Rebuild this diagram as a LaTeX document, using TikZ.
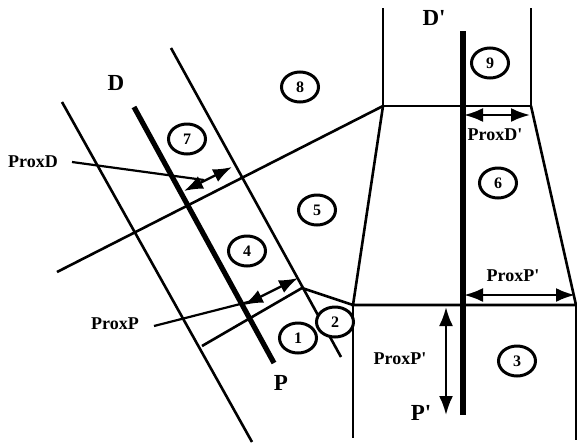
\documentclass[tikz,border=0pt]{standalone}
\usepackage{fontspec}
\setmainfont{Liberation Serif}
\newfontfamily\libplain{Liberation Serif}
\usetikzlibrary{arrows.meta,shapes.geometric}
\begin{document}
\begin{tikzpicture}[x=1pt,y=-1pt,
  thinline/.style={line width=2.6pt},
  thickline/.style={line width=5.2pt},
  num/.style={draw,ellipse,line width=3pt,minimum width=37pt,minimum height=30pt,inner sep=0pt,fill=white,font=\libplain\bfseries\fontsize{16}{16}\selectfont},
  lbl/.style={font=\libplain\bfseries\fontsize{18}{18}\selectfont,inner sep=0pt},
  biglbl/.style={font=\libplain\bfseries\fontsize{23}{23}\selectfont,inner sep=0pt},
  dbl/.style={line width=2.4pt,{Latex[length=19pt,width=14pt]}-{Latex[length=19pt,width=14pt]}},
  leader/.style={line width=2.2pt}]
\useasboundingbox (0,0) rectangle (577,445);
% vertices
\coordinate (L1a) at (62,102);
\coordinate (L1b) at (252,442);
\coordinate (Da) at (134,107);
\coordinate (Db) at (274,363);
\coordinate (R1a) at (171,48);
\coordinate (R1b) at (341,357);
\coordinate (U1) at (57,272);
\coordinate (V1) at (383,106);
\coordinate (Pa) at (202,346);
\coordinate (Pb) at (302,288);
\coordinate (V2) at (353,305);
\coordinate (V3) at (531,106);
\coordinate (V4) at (576,305);
\coordinate (DLt) at (383,8);
\coordinate (DRt) at (531,8);
\coordinate (DPt) at (463,31);
\coordinate (DPb) at (463,415);
\coordinate (Bot) at (353,438);
\coordinate (RBot) at (576,440);
% left band
\draw[thinline] (L1a) -- (L1b);
\draw[thickline] (Da) -- (Db);
\draw[thinline] (R1a) -- (R1b);
\draw[thinline] (U1) -- (V1);
\draw[thinline] (Pa) -- (Pb) -- (V2);
% right band
\draw[thinline] (DLt) -- (V1) -- (V3) -- (DRt);
\draw[thinline] (V1) -- (V2) -- (V4) -- (V3);
\draw[thinline] (V2) -- (Bot);
\draw[thinline] (V4) -- (RBot);
\draw[thickline] (DPt) -- (DPb);
% arrows
\coordinate (pdA) at (184,191);
\coordinate (pdB) at (232,167);
\draw[dbl] (pdA) -- (pdB);
\coordinate (ppA) at (244,305);
\coordinate (ppB) at (298,278);
\draw[dbl] (ppA) -- (ppB);
\coordinate (pdpA) at (464,115);
\coordinate (pdpB) at (530,115);
\draw[dbl] (pdpA) -- (pdpB);
\coordinate (pphA) at (464,295);
\coordinate (pphB) at (575,295);
\draw[dbl] (pphA) -- (pphB);
\coordinate (ppvA) at (446,307);
\coordinate (ppvB) at (446,415);
\draw[dbl] (ppvA) -- (ppvB);
% labels
\node[lbl] (proxD) at (33,162) {ProxD};
\node[lbl] (proxP) at (115,324) {ProxP};
\node[lbl] (proxDp) at (495,135) {ProxD'};
\node[lbl] (proxPph) at (513,276) {ProxP'};
\node[lbl] (proxPpv) at (400,359) {ProxP'};
\coordinate (pdL) at (72,162);
\coordinate (pdM) at (204,180);
\draw[leader] (pdL) -- (pdM);
\coordinate (ppL) at (154,326);
\coordinate (ppM) at (252,301);
\draw[leader] (ppL) -- (ppM);
\node[biglbl] (labD) at (116,83) {D};
\node[biglbl] (labP) at (281,383) {P};
\node[biglbl] (labDp) at (434,18) {D'};
\node[biglbl] (labPp) at (421,413) {P'};
% numbered regions
\node[num] (n1) at (298,338) {1};
\node[num] (n2) at (335,322) {2};
\node[num] (n3) at (517,361) {3};
\node[num] (n4) at (247,251) {4};
\node[num] (n5) at (317,210) {5};
\node[num] (n6) at (498,183) {6};
\node[num] (n7) at (187,139) {7};
\node[num] (n8) at (300,87) {8};
\node[num] (n9) at (490,63) {9};
\end{tikzpicture}
\end{document}
